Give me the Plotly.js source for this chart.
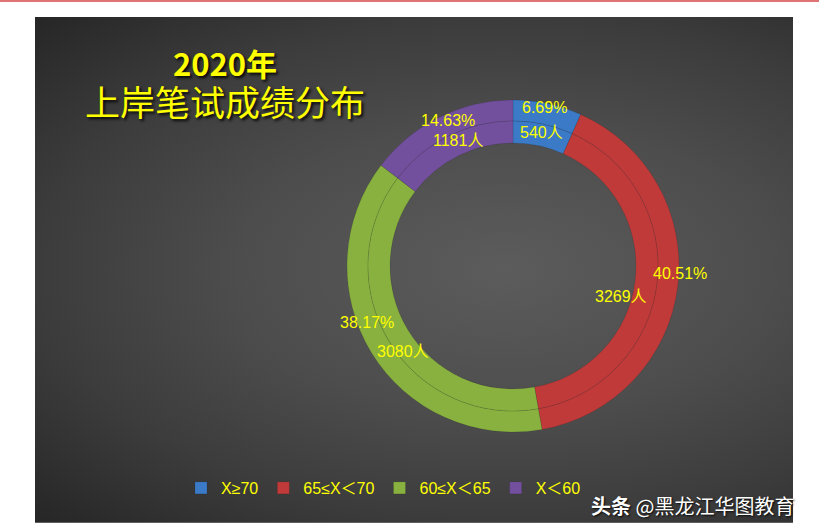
<!DOCTYPE html>
<html>
<head>
<meta charset="utf-8">
<script src="https://cdn.plot.ly/plotly-3.0.1.min.js"></script>
<style>
  html, body { margin: 0; padding: 0; background: #ffffff; }
  #wrap { position: relative; width: 819px; height: 530px; overflow: hidden; background: #ffffff; }
  #topline { position: absolute; left: 0; top: 0; width: 819px; height: 2px; background: #e07474; }
  #panel { position: absolute; left: 35px; top: 17px; width: 758px; height: 505px;
    background: radial-gradient(ellipse farthest-corner at 62% 50%, #5c5c5c 0%, #4d4d4d 40%, #3c3c3c 70%, #262626 100%);
    border-bottom: 1px solid #5e5e5e; }
  #chart { position: absolute; left: 0; top: 0; width: 819px; height: 530px; }
</style>
</head>
<body>
<div id="wrap">
  <div id="topline"></div>
  <div id="panel"></div>
  <div id="chart"></div>
</div>
<script>
// ---- data ----
var categories = ['X≥70', '65≤X＜70', '60≤X＜65', 'X＜60'];
var counts = [540, 3269, 3080, 1181];
var colors = ['#3a7ac6', '#c13a3a', '#88b13f', '#72509e'];
var titleLine1 = '2020年';
var titleLine2 = '上岸笔试成绩分布';
var watermark = '<b>头条</b> @黑龙江华图教育';

// ---- geometry / label placement (layout only) ----
var W = 819, H = 530;
var cx = 513, cy = 266;      // donut centre (px)
var rOuter = 166, rMid = 145, rInner = 123;
var rPctLabel = 160, rCntLabel = 136;
var pctNudge = [[-2, -2], [8, -12], [-9, -27], [6, -2]];
var cntNudge = [[0, 0], [-27, 14], [6, 15], [5, -4]];

function dom(r) {
  return {
    x: [(cx - r) / W, (cx + r) / W],
    y: [(H - cy - r) / H, (H - cy + r) / H]
  };
}

var ringLine = { color: 'rgba(0,0,0,0.2)', width: 0.5 };

var outer = {
  type: 'pie',
  values: counts,
  labels: categories,
  domain: dom(rOuter),
  hole: rMid / rOuter,
  sort: false,
  direction: 'clockwise',
  rotation: 0,
  marker: { colors: colors, line: ringLine },
  textinfo: 'none',
  hoverinfo: 'none',
  showlegend: true
};

var inner = {
  type: 'pie',
  values: counts,
  labels: categories,
  domain: dom(rMid),
  hole: rInner / rMid,
  sort: false,
  direction: 'clockwise',
  rotation: 0,
  marker: { colors: colors, line: ringLine },
  textinfo: 'none',
  hoverinfo: 'none',
  showlegend: false
};

// data labels: percent on the outer ring, head-count on the inner ring,
// placed along each slice's bisector computed from the counts
var total = counts.reduce(function (a, b) { return a + b; }, 0);
var labelFont = { family: 'Liberation Sans, Noto Sans CJK SC, sans-serif', size: 16, color: '#ffff00' };
var annotations = [];
var cum = 0;
counts.forEach(function (v, i) {
  var frac = v / total;
  var mid = (cum + frac / 2) * 2 * Math.PI;
  cum += frac;
  var px = cx + rPctLabel * Math.sin(mid) + pctNudge[i][0];
  var py = cy - rPctLabel * Math.cos(mid) + pctNudge[i][1];
  annotations.push({
    text: (frac * 100).toFixed(2) + '%',
    xref: 'paper', yref: 'paper', x: px / W, y: (H - py) / H,
    xanchor: 'center', yanchor: 'middle', showarrow: false, font: labelFont
  });
  var qx = cx + rCntLabel * Math.sin(mid) + cntNudge[i][0];
  var qy = cy - rCntLabel * Math.cos(mid) + cntNudge[i][1];
  annotations.push({
    text: v + '人',
    xref: 'paper', yref: 'paper', x: qx / W, y: (H - qy) / H,
    xanchor: 'center', yanchor: 'middle', showarrow: false, font: labelFont
  });
});

annotations.push({
  text: watermark,
  xref: 'paper', yref: 'paper',
  x: 589 / W, y: (H - 505) / H,
  xanchor: 'left', yanchor: 'middle',
  showarrow: false,
  font: { family: 'Noto Sans CJK SC, sans-serif', size: 20, color: '#ffffff',
          shadow: '1px 1px 2px rgba(0,0,0,0.9)' }
});

var layout = {
  width: W,
  height: H,
  margin: { l: 0, r: 0, t: 0, b: 0 },
  paper_bgcolor: 'rgba(0,0,0,0)',
  plot_bgcolor: 'rgba(0,0,0,0)',
  title: {
    text: '<b>' + titleLine1 + '</b><br><span style="font-size:35px">' + titleLine2 + '</span>',
    x: 225 / W,
    xanchor: 'center',
    xref: 'container',
    y: 1 - 76 / H,
    yanchor: 'top',
    yref: 'container',
    font: { family: 'Noto Sans CJK SC, sans-serif', size: 31, color: '#ffff00',
            shadow: '2px 2px 3px rgba(0,0,0,0.9)' }
  },
  legend: {
    orientation: 'h',
    x: 586 / W,
    xanchor: 'right',
    y: (H - 488) / H,
    yanchor: 'middle',
    font: { family: 'Liberation Sans, Noto Sans CJK SC, sans-serif', size: 16, color: '#ffff00' },
    bgcolor: 'rgba(0,0,0,0)',
    itemwidth: 30,
    traceorder: 'normal'
  },
  annotations: annotations
};

Plotly.newPlot('chart', [outer, inner], layout, { displayModeBar: false, staticPlot: true });
</script>
</body>
</html>
